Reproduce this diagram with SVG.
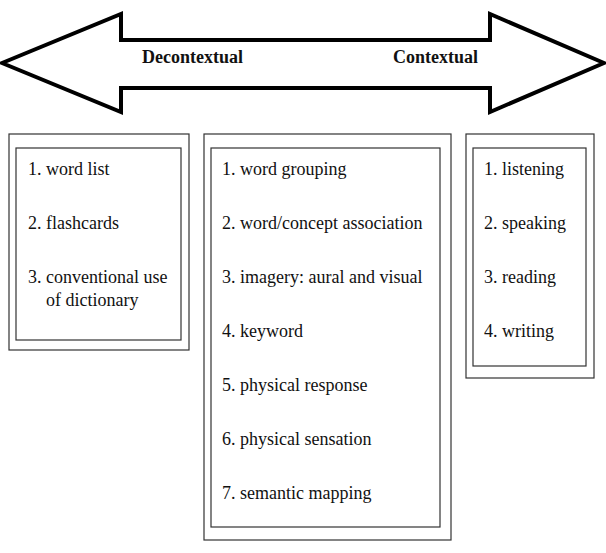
<svg xmlns="http://www.w3.org/2000/svg" width="606" height="553" viewBox="0 0 606 553">
<style>
.box{fill:none;stroke:#333;stroke-width:1.2}
.t{font-family:"Liberation Serif","Times New Roman",serif;font-size:18px;fill:#111}
.b{font-family:"Liberation Serif","Times New Roman",serif;font-size:18px;font-weight:bold;fill:#111}
</style>
<rect width="606" height="553" fill="#fff"/>
<g id="arrow">
<polygon points="2,63 121,14 121,40 490,40 490,14 604,63 490,112 490,88 121,88 121,112" fill="#fff" stroke="#000" stroke-width="4" stroke-linejoin="miter"/>
<text class="b" x="142" y="63">Decontextual</text>
<text class="b" x="393" y="63">Contextual</text>
</g>
<g id="decontextual">
<rect class="box" x="9" y="134" width="180" height="216"/>
<rect class="box" x="16" y="148" width="165" height="192"/>
<text class="t" x="28" y="175">1. word list</text>
<text class="t" x="28" y="229">2. flashcards</text>
<text class="t" x="28" y="283">3. conventional use</text>
<text class="t" x="46" y="306">of dictionary</text>
</g>
<g id="semicontextual">
<rect class="box" x="204" y="134" width="247" height="406"/>
<rect class="box" x="211" y="148" width="229" height="379"/>
<text class="t" x="222" y="175">1. word grouping</text>
<text class="t" x="222" y="229">2. word/concept association</text>
<text class="t" x="222" y="283">3. imagery: aural and visual</text>
<text class="t" x="222" y="337">4. keyword</text>
<text class="t" x="222" y="391">5. physical response</text>
<text class="t" x="222" y="445">6. physical sensation</text>
<text class="t" x="222" y="499">7. semantic mapping</text>
</g>
<g id="contextual">
<rect class="box" x="466" y="134" width="128" height="244"/>
<rect class="box" x="473" y="148" width="113" height="218"/>
<text class="t" x="484" y="175">1. listening</text>
<text class="t" x="484" y="229">2. speaking</text>
<text class="t" x="484" y="283">3. reading</text>
<text class="t" x="484" y="337">4. writing</text>
</g>
<g id="connectors"></g>
</svg>
